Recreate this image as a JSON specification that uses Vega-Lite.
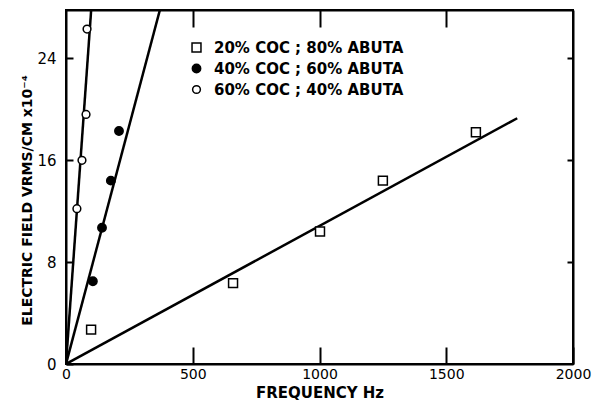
{
  "$schema": "https://vega.github.io/schema/vega-lite/v6.json",
  "width": 507,
  "height": 354,
  "padding": {"left": 66, "top": 10, "right": 27, "bottom": 40},
  "autosize": {"type": "none"},
  "background": "white",
  "config": {
    "view": {"stroke": "black", "strokeWidth": 2},
    "font": "DejaVu Sans",
    "axis": {"domainColor": "black", "domainWidth": 2, "tickColor": "black", "tickWidth": 2, "grid": false,
      "labelFont": "DejaVu Sans", "labelFontSize": 15, "labelColor": "black", "titleFont": "DejaVu Sans", "titleFontSize": 14, "titleFontWeight": "bold", "titleColor": "black"}
  },
  "datasets": {
    "lines": [
      {"series": "20% COC ; 80% ABUTA", "freq": 0, "field": 0},
      {"series": "20% COC ; 80% ABUTA", "freq": 1780, "field": 19.3},
      {"series": "40% COC ; 60% ABUTA", "freq": 0, "field": 0},
      {"series": "40% COC ; 60% ABUTA", "freq": 373, "field": 28},
      {"series": "60% COC ; 40% ABUTA", "freq": 0, "field": 0},
      {"series": "60% COC ; 40% ABUTA", "freq": 100, "field": 28}
    ],
    "points": [
      {"series": "20% COC ; 80% ABUTA", "freq": 99, "field": 2.7},
      {"series": "20% COC ; 80% ABUTA", "freq": 659, "field": 6.35},
      {"series": "20% COC ; 80% ABUTA", "freq": 1002, "field": 10.4},
      {"series": "20% COC ; 80% ABUTA", "freq": 1250, "field": 14.4},
      {"series": "20% COC ; 80% ABUTA", "freq": 1617, "field": 18.2},
      {"series": "40% COC ; 60% ABUTA", "freq": 106, "field": 6.5},
      {"series": "40% COC ; 60% ABUTA", "freq": 142, "field": 10.7},
      {"series": "40% COC ; 60% ABUTA", "freq": 177, "field": 14.4},
      {"series": "40% COC ; 60% ABUTA", "freq": 209, "field": 18.3},
      {"series": "60% COC ; 40% ABUTA", "freq": 43, "field": 12.2},
      {"series": "60% COC ; 40% ABUTA", "freq": 63, "field": 16},
      {"series": "60% COC ; 40% ABUTA", "freq": 79, "field": 19.6},
      {"series": "60% COC ; 40% ABUTA", "freq": 83, "field": 26.3}
    ]
  },
  "layer": [
    {
      "data": {"name": "lines"},
      "mark": {"type": "line", "color": "black", "strokeWidth": 2.5, "clip": true},
      "encoding": {
        "x": {"field": "freq", "type": "quantitative", "scale": {"domain": [0, 2000], "nice": false},
          "axis": {"orient": "bottom", "values": [0, 500, 1000, 1500, 2000], "format": "d", "tickSize": -17, "labelPadding": 20, "labelFontSize": 14, "title": "FREQUENCY Hz", "titleFontSize": 15, "titleY": 28, "titleBaseline": "middle", "labelFlush": false}},
        "y": {"field": "field", "type": "quantitative", "scale": {"domain": [0, 27.8], "nice": false},
          "axis": {"orient": "left", "values": [0, 8, 16, 24], "tickSize": -7, "labelPadding": 17, "title": "ELECTRIC FIELD VRMS/CM x10⁻⁴", "titleX": -39, "titleY": 190, "titleBaseline": "middle"}},
        "detail": {"field": "series"}
      }
    },
    {
      "data": {"name": "points"},
      "mark": {"type": "point", "stroke": "black", "strokeWidth": 1.5, "opacity": 1},
      "encoding": {
        "x": {"field": "freq", "type": "quantitative", "axis": {"orient": "top", "values": [500, 1000, 1500], "tickSize": -17, "labels": false, "title": null, "domain": true}},
        "y": {"field": "field", "type": "quantitative", "axis": {"orient": "right", "values": [8, 16, 24], "tickSize": -6, "labels": false, "title": null}},
        "shape": {"field": "series", "type": "nominal", "scale": {"range": ["square", "circle", "circle"]},
          "legend": {"orient": "none", "legendX": 123, "legendY": 30, "title": null, "labelFontSize": 15, "labelFontWeight": "bold", "labelFont": "DejaVu Sans", "labelColor": "black", "labelLimit": 0, "rowPadding": 5, "labelOffset": 10, "symbolStrokeWidth": 1.5, "symbolStrokeColor": "black"}},
        "fill": {"field": "series", "type": "nominal", "scale": {"range": ["white", "black", "white"]}},
        "size": {"field": "series", "type": "nominal", "scale": {"range": [80, 60, 30]}}
      }
    }
  ],
  "resolve": {"axis": {"x": "independent", "y": "independent"}}
}
